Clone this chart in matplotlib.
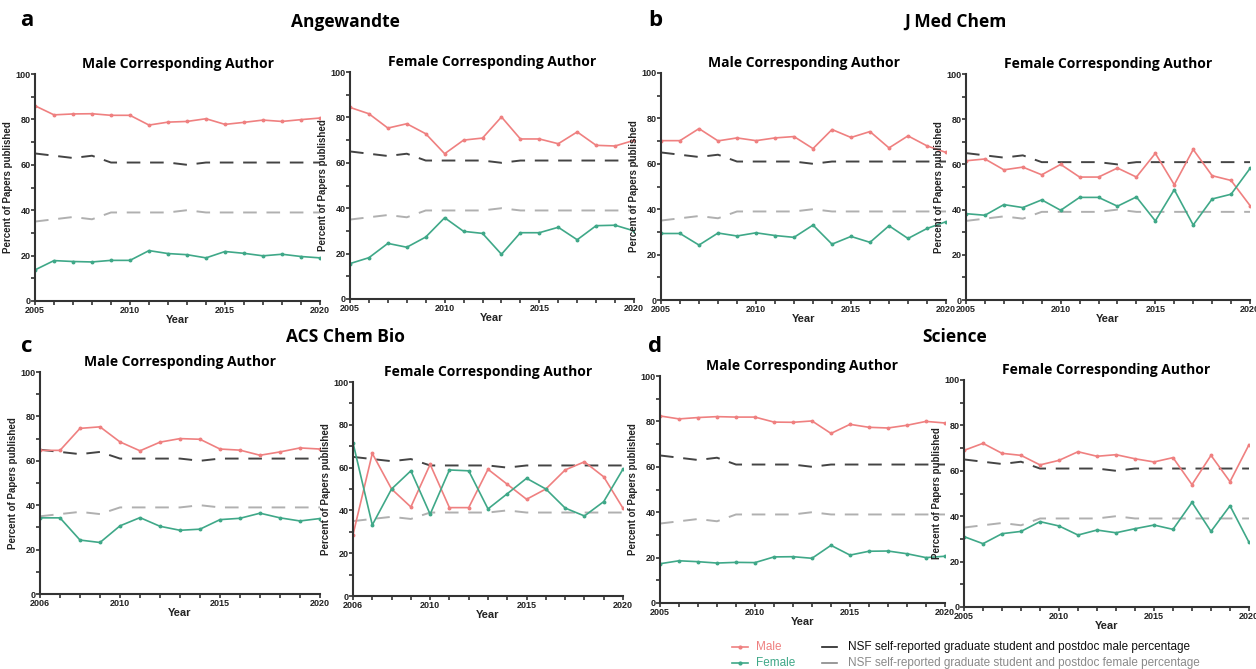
import matplotlib
matplotlib.use("Agg")
import matplotlib.pyplot as plt
from matplotlib.lines import Line2D
import numpy as np

# ---------------- data ----------------
years_05 = list(range(2005, 2021))
years_06 = list(range(2006, 2021))

nsf_male = [65, 64, 63, 64, 61, 61, 61, 61, 60, 61, 61, 61, 61, 61, 61, 61]
nsf_female = [35, 36, 37, 36, 39, 39, 39, 39, 40, 39, 39, 39, 39, 39, 39, 39]

# a: Angewandte
ang_male_m = [86.0, 82.0, 82.4, 82.5, 81.8, 81.8, 77.5, 78.8, 79.1, 80.3, 77.8, 78.7, 79.7, 79.1, 79.9, 80.6]
ang_male_f = [13.7, 17.8, 17.4, 17.2, 17.9, 17.9, 22.2, 20.9, 20.4, 19.0, 21.8, 21.0, 19.9, 20.6, 19.6, 19.0]
ang_fem_m = [84.4, 81.6, 75.3, 77.2, 72.8, 64.0, 70.0, 70.9, 80.2, 70.5, 70.5, 68.4, 73.6, 67.7, 67.4, 69.9]
ang_fem_f = [15.6, 18.2, 24.5, 22.8, 27.3, 35.8, 29.8, 28.9, 19.7, 29.2, 29.2, 31.6, 26.1, 32.3, 32.5, 30.0]

# b: J Med Chem
jmc_male_m = [70.2, 70.2, 75.5, 70.1, 71.4, 70.2, 71.4, 72.0, 66.7, 75.1, 71.6, 74.2, 67.0, 72.3, 67.9, 65.0]
jmc_male_f = [29.3, 29.3, 24.2, 29.5, 28.2, 29.6, 28.4, 27.6, 33.0, 24.6, 28.0, 25.4, 32.7, 27.1, 31.5, 34.5]
jmc_fem_m = [61.6, 62.4, 57.6, 58.8, 55.4, 60.0, 54.4, 54.4, 58.4, 54.4, 64.9, 51.0, 66.6, 55.0, 52.9, 41.8]
jmc_fem_f = [38.2, 37.5, 42.2, 40.9, 44.3, 39.7, 45.4, 45.4, 41.5, 45.6, 35.0, 48.8, 33.2, 44.7, 46.8, 58.2]

# c: ACS Chem Bio (2006-2020)
acs_male_m = [64.7, 64.7, 74.6, 75.3, 68.5, 64.5, 68.4, 70.0, 69.7, 65.3, 64.8, 62.5, 64.0, 65.8, 65.3]
acs_male_f = [34.3, 34.3, 24.3, 23.2, 30.7, 34.4, 30.5, 28.7, 29.2, 33.5, 34.1, 36.4, 34.3, 32.9, 34.0]
acs_fem_m = [28.6, 66.6, 50.0, 41.6, 61.5, 41.3, 41.3, 59.2, 52.2, 45.2, 50.0, 58.9, 62.7, 55.7, 41.0]
acs_fem_f = [71.6, 33.2, 50.0, 58.5, 38.2, 58.9, 58.5, 40.7, 47.8, 55.0, 50.0, 41.1, 37.4, 44.1, 59.3]

# d: Science
sci_male_m = [82.4, 81.1, 81.7, 82.1, 81.9, 81.9, 79.7, 79.6, 80.2, 74.7, 78.7, 77.4, 77.1, 78.3, 80.0, 79.3]
sci_male_f = [17.3, 18.6, 18.2, 17.6, 17.9, 17.8, 20.3, 20.4, 19.7, 25.4, 21.1, 22.8, 22.9, 21.7, 20.0, 20.6]
sci_fem_m = [69.0, 72.1, 67.7, 66.8, 62.6, 64.6, 68.4, 66.4, 67.1, 65.3, 63.9, 65.8, 53.9, 66.8, 55.2, 71.5]
sci_fem_f = [31.0, 27.9, 32.3, 33.3, 37.6, 35.7, 31.7, 33.9, 32.7, 34.5, 36.1, 34.2, 46.1, 33.3, 44.6, 28.5]

panel_titles = ["Angewandte", "J Med Chem", "ACS Chem Bio", "Science"]
panel_letters = ["a", "b", "c", "d"]
sub_titles = ["Male Corresponding Author", "Female Corresponding Author"]
legend_labels = ["Male", "Female",
                 "NSF self-reported graduate student and postdoc male percentage",
                 "NSF self-reported graduate student and postdoc female percentage"]

# ---------------- style ----------------
RED = "#ef8080"
GREEN = "#3fa888"
DARK = "#444444"
GRAY = "#b0b0b0"
AX = "#333333"
W, H = 1256, 669

plt.rcParams["font.family"] = ["Liberation Sans", "DejaVu Sans"]
fig = plt.figure(figsize=(W / 100, H / 100), dpi=100)


def pos(x0, x1, y0, y1):
    return [x0 / W, 1 - y1 / H, (x1 - x0) / W, (y1 - y0) / H]


axes_px = [
    (35, 320, 74, 301), (350, 634, 72, 299),
    (661, 946, 73, 300), (966, 1250, 74, 300),
    (40, 320, 372, 594), (353, 623, 382, 596),
    (660, 945, 376, 603), (964, 1249, 380, 607),
]

series = [
    (years_05, ang_male_m, ang_male_f), (years_05, ang_fem_m, ang_fem_f),
    (years_05, jmc_male_m, jmc_male_f), (years_05, jmc_fem_m, jmc_fem_f),
    (years_06, acs_male_m, acs_male_f), (years_06, acs_fem_m, acs_fem_f),
    (years_05, sci_male_m, sci_male_f), (years_05, sci_fem_m, sci_fem_f),
]

for i, ((x0, x1, y0, y1), (yrs, m, f)) in enumerate(zip(axes_px, series)):
    ax = fig.add_axes(pos(x0, x1, y0, y1))
    n = len(yrs)
    ax.plot(yrs, nsf_male[:n], color=DARK, lw=1.4, dashes=(7, 5))
    ax.plot(yrs, nsf_female[:n], color=GRAY, lw=1.4, dashes=(7, 5))
    ax.plot(yrs, m, color=RED, lw=1.2, marker="o", ms=1.8)
    ax.plot(yrs, f, color=GREEN, lw=1.2, marker="o", ms=1.8)
    ax.set_xlim(yrs[0], yrs[-1])
    ax.set_ylim(0, 100)
    for s in ["top", "right"]:
        ax.spines[s].set_visible(False)
    for s in ["left", "bottom"]:
        ax.spines[s].set_color(AX)
        ax.spines[s].set_linewidth(1.5)
    ax.set_xticks([yrs[0], 2010, 2015, 2020])
    ax.set_xticks(yrs, minor=True)
    ax.set_yticks([0, 20, 40, 60, 80, 100])
    ax.set_yticks(range(0, 101, 10), minor=True)
    ax.tick_params(which="both", direction="out", color=AX, width=1.2, labelsize=6.5,
                   labelcolor="#222222")
    ax.tick_params(axis="x", pad=0.5)
    ax.tick_params(axis="y", pad=0)
    ax.tick_params(which="major", length=3.2)
    ax.tick_params(which="minor", length=2.8)
    for lab in ax.get_xticklabels() + ax.get_yticklabels():
        lab.set_fontweight("bold")
    ax.set_xlabel("Year", fontsize=8, fontweight="bold", labelpad=0, color="#222222")
    ax.set_ylabel("Percent of Papers published", fontsize=7, fontweight="bold",
                  labelpad=1.5, color="#222222")
    ax.set_title(sub_titles[i % 2], fontsize=10, fontweight="bold",
                 family=["Open Sans", "DejaVu Sans"], pad=4)

# panel titles and letters
title_pos = [(345, 22), (955, 22), (345, 337), (955, 337)]
letter_pos = [(27, 20), (655, 20), (27, 347), (655, 347)]
for t, (tx, ty), l, (lx, ly) in zip(panel_titles, title_pos, panel_letters, letter_pos):
    fig.text(tx / W, 1 - ty / H, t, ha="center", va="center", fontsize=12.5,
             fontweight="bold", family=["Open Sans", "DejaVu Sans"])
    fig.text(lx / W, 1 - ly / H, l, ha="center", va="center", fontsize=16,
             fontweight="bold", family=["Open Sans", "DejaVu Sans"])

# legend
leg_items = [
    (732, 748, 647, RED, "o", legend_labels[0], RED, 756),
    (732, 748, 663, GREEN, "o", legend_labels[1], GREEN, 756),
    (822, 837, 647, "#222222", None, legend_labels[2], "#111111", 848),
    (822, 837, 663, "#888888", None, legend_labels[3], "#8a8a8a", 848),
]
for xa, xb, yy, c, mk, lab, tc, tx in leg_items:
    fig.add_artist(Line2D([xa / W, xb / W], [1 - yy / H, 1 - yy / H], color=c, lw=1.2,
                          transform=fig.transFigure))
    if mk:
        fig.add_artist(Line2D([(xa + xb) / 2 / W], [1 - yy / H], color=c, marker="o",
                              ms=2, transform=fig.transFigure))
    fig.text(tx / W, 1 - yy / H, lab, ha="left", va="center", fontsize=8.5, color=tc)

fig.savefig("out.png", dpi=100)
